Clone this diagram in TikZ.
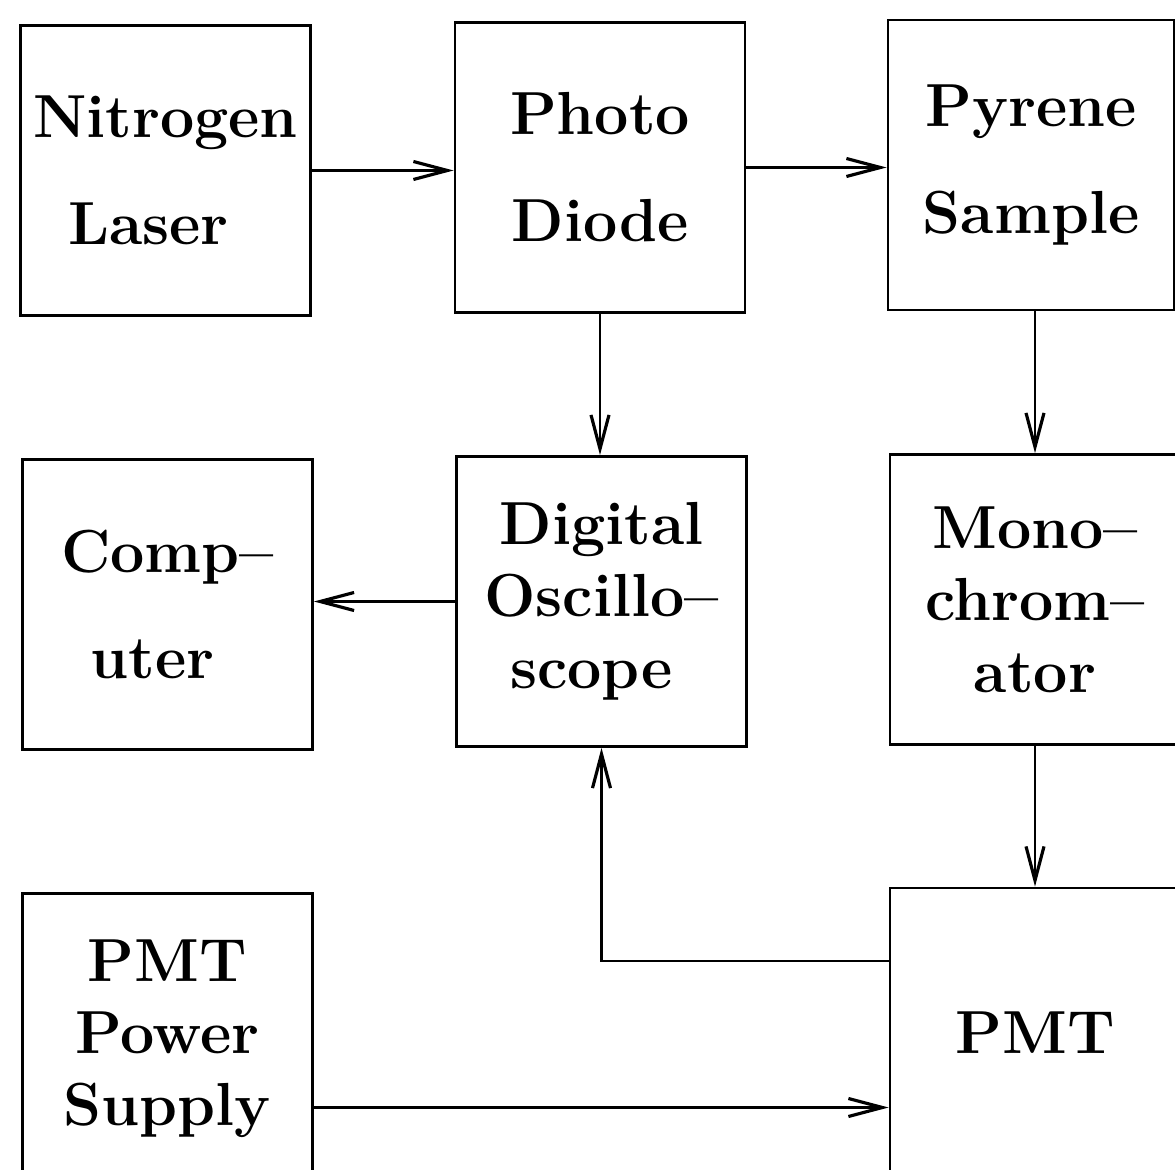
\documentclass[tikz,border=0pt]{standalone}
\usepackage{tikz}
\usetikzlibrary{shapes,arrows.meta}
\usetikzlibrary{calc}

\begin{document}
\begin{tikzpicture}[
	blok/.style={draw,line width=0.8pt,minimum width=2.9cm,minimum height=2.9cm,inner sep=0pt,align=center,font=\fontsize{17.3}{30.4}\selectfont\bfseries},
	blokthree/.style={blok,font=\fontsize{17.3}{20.5}\selectfont\bfseries},
	signal/.style={line width=0.6pt,-{Straight Barb[length=3.4mm,width=1.8mm,line width=0.9pt]}}]
	\useasboundingbox (0,0) rectangle (11.75,-11.70);
	
	\node[blok] at (1.655,-1.705) (L) {Nitrogen\\Laser\hspace*{0.34cm}};
	\node[blok] at (6.00,-1.675) (P) {Photo\\Diode};
	\node[blok,minimum width=2.86cm] at (10.31,-1.65) (S) {Pyrene\\Sample};
	
	\node[blok] at (1.675,-6.045) (C) {Comp\textendash\\uter\hspace*{0.3cm}};
	\node[blokthree] at (6.015,-6.015) (O) {Digital\\Oscillo\textendash\\scope\hspace*{0.2cm}};
	\node[blokthree] at (10.35,-5.995) (M) {Mono\textendash\\chrom\textendash\\ator};
	
	\node[blokthree] at (1.675,-10.385) (V) {PMT\\Power\\Supply};
	\node[blok] at (10.35,-10.33) (T) {PMT};
	
	\draw[signal] (L.east) -- (L.east -| P.west);
	\draw[signal] (P.east) -- (P.east -| S.west);
	\draw[signal] (P.south) -- (P.south |- O.north);
	\draw[signal] (M.north |- S.south) -- (M.north);
	\draw[signal] (O.west) -- (O.west -| C.east);
	\draw[signal] (M.south) -- (M.south |- T.north);
	
	\coordinate (back) at ($(T.north west)+(0,-0.74)$);
	\draw[signal] (back) -| (O.south);
	\coordinate (hv) at ($(V.east)+(0,-0.69)$);
	\draw[signal] (hv) -- (hv -| T.west);
\end{tikzpicture}
\end{document}
